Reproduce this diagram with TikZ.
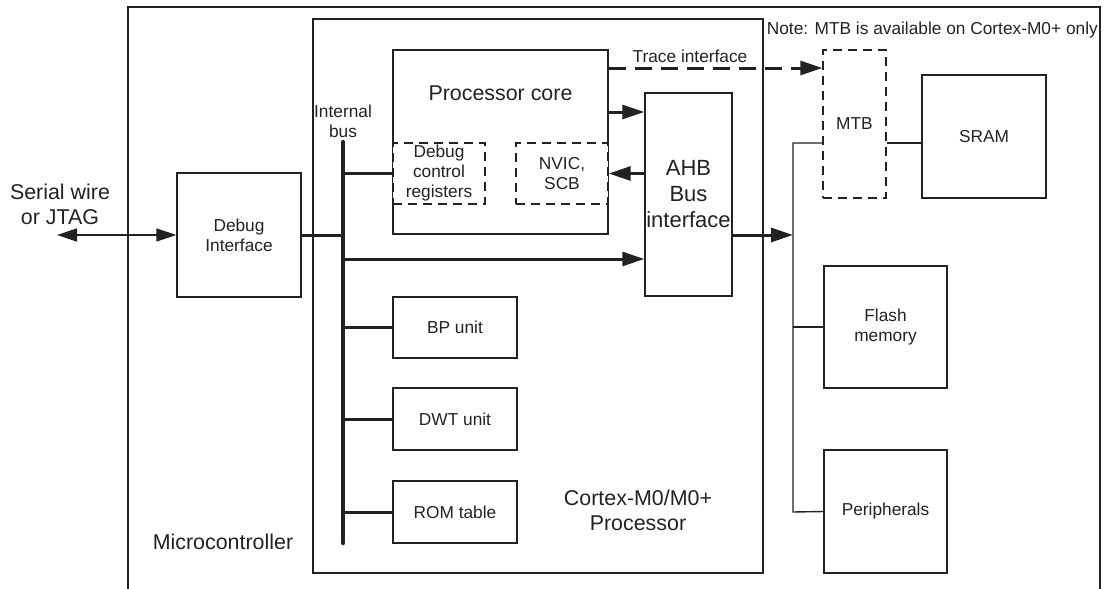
\documentclass[tikz,border=0pt]{standalone}
\usepackage{fontspec}
\setmainfont{Liberation Sans}
\usetikzlibrary{arrows.meta}
\definecolor{ink}{HTML}{222222}
\newcommand\bigtxt{\fontsize{21.4}{25}\selectfont}
\newcommand\smalltxt{\fontsize{17.3}{20}\selectfont}
\tikzset{
  box/.style={draw=ink, line width=1.4pt, inner sep=0pt, align=center, font=\smalltxt, text=ink},
  dbox/.style={box, dash pattern=on 9pt off 6pt, fill=white},
  frame/.style={draw=ink, line width=1.4pt},
  wire/.style={draw=ink, line width=1.4pt},
  wire3/.style={draw=ink, line width=3pt},
  busline/.style={draw=ink, line width=4.5pt, line cap=round},
  arr/.style={-{Triangle[length=22pt,width=14pt]}},
  trace/.style={draw=ink, line width=3pt, dash pattern=on 17pt off 9pt},
  lbl/.style={align=center, text=ink, inner sep=0pt}
}
\begin{document}
\begin{tikzpicture}[x=1pt,y=-1pt]
\useasboundingbox (0,0) rectangle (1104,589);
\clip (0,0) rectangle (1104,589);
% Microcontroller frame (open at the bottom)
\draw[frame] (128,600) -- (128,7) -- (1100,7) -- (1100,600);
% Processor frame
\node[box, minimum width=450pt, minimum height=554pt] (proc) at (538,296) {};
% Blocks
\node[box, minimum width=124pt, minimum height=124pt] (debug) at (239,235) {Debug\\Interface};
\node[box, minimum width=215pt, minimum height=184pt] (core) at (500.5,142) {};
\node[lbl, font=\bigtxt] (coretxt) at (500.5,93) {Processor core};
\node[dbox, minimum width=92pt, minimum height=61pt] (dcr) at (439,173.5) {Debug\\control\\registers};
\node[dbox, minimum width=92pt, minimum height=61pt] (nvic) at (562,173.5) {NVIC,\\SCB};
\node[box, font=\fontsize{22}{26}\selectfont, minimum width=87pt, minimum height=203pt] (ahb) at (688.5,194.5) {AHB\\Bus\\interface};
\node[box, minimum width=124pt, minimum height=61pt] (bp) at (455,327.5) {BP unit};
\node[box, minimum width=124pt, minimum height=62pt] (dwt) at (455,419) {DWT unit};
\node[box, minimum width=124pt, minimum height=62pt] (rom) at (455,512) {ROM table};
\node[dbox, minimum width=63pt, minimum height=148pt] (mtb) at (854.5,124) {MTB};
\node[box, minimum width=124pt, minimum height=123pt] (sram) at (984,136.5) {SRAM};
\node[box, minimum width=123pt, minimum height=122pt] (flash) at (885.5,327) {Flash\\memory};
\node[box, minimum width=123pt, minimum height=123pt] (periph) at (885.5,511.5) {Peripherals};
% Labels
\node[lbl, font=\smalltxt] (ibus) at (343,121) {Internal\\bus};
\node[lbl, font=\smalltxt] (tracelbl) at (690,56) {Trace interface};
\node[lbl, font=\smalltxt, anchor=east] (note) at (1098,30) {Note: MTB is available on Cortex-M0+ only};
\node[lbl, font=\bigtxt] (sw) at (60,204) {Serial wire\\or JTAG};
\node[lbl, font=\bigtxt] (proclbl) at (638,510) {Cortex-M0/M0+\\Processor};
\node[lbl, font=\bigtxt] (mclbl) at (223,542) {Microcontroller};
% Internal bus
\coordinate (busT) at (343,142);
\coordinate (busB) at (343,543);
\draw[busline] (busT) -- (busB);
% Memory bus
\coordinate (mbT) at (793,143);
\coordinate (mbB) at (793,512);
\coordinate (swend) at (57,235);
% Connectors
\draw[wire, {Triangle[length=20pt,width=13pt]}-{Triangle[length=20pt,width=13pt]}] (swend) -- (debug.west);
\draw[wire3] (debug.east) -- (debug.east -| busT);
\draw[wire3] (dcr.west -| busT) -- (dcr.west);
\draw[wire3] (bp.west -| busT) -- (bp.west);
\draw[wire3] (dwt.west -| busT) -- (dwt.west);
\draw[wire3] (rom.west -| busT) -- (rom.west);
\coordinate (a1) at (343,259);
\draw[wire3, arr] (a1) -- (a1 -| ahb.west);
\draw[wire3, arr] ([yshift=30pt]core.east) -- ([yshift=30pt]core.east -| ahb.west);
\draw[wire3, arr] (nvic.east -| ahb.west) -- (nvic.east);
\draw[trace, arr] ([yshift=74pt]core.east) -- ([yshift=74pt]core.east -| mtb.west);
\draw[wire3, arr] ([yshift=-40.5pt]ahb.east) -- ([yshift=-40.5pt]ahb.east -| mbT);
\draw[wire] (mbT -| mtb.west) -- (mbT) -- (mbB) -- (periph.west);
\draw[wire] (flash.west -| mbT) -- (flash.west);
\draw[wire] ([yshift=-19pt]mtb.east) -- ([yshift=-19pt]mtb.east -| sram.west);
\end{tikzpicture}
\end{document}
